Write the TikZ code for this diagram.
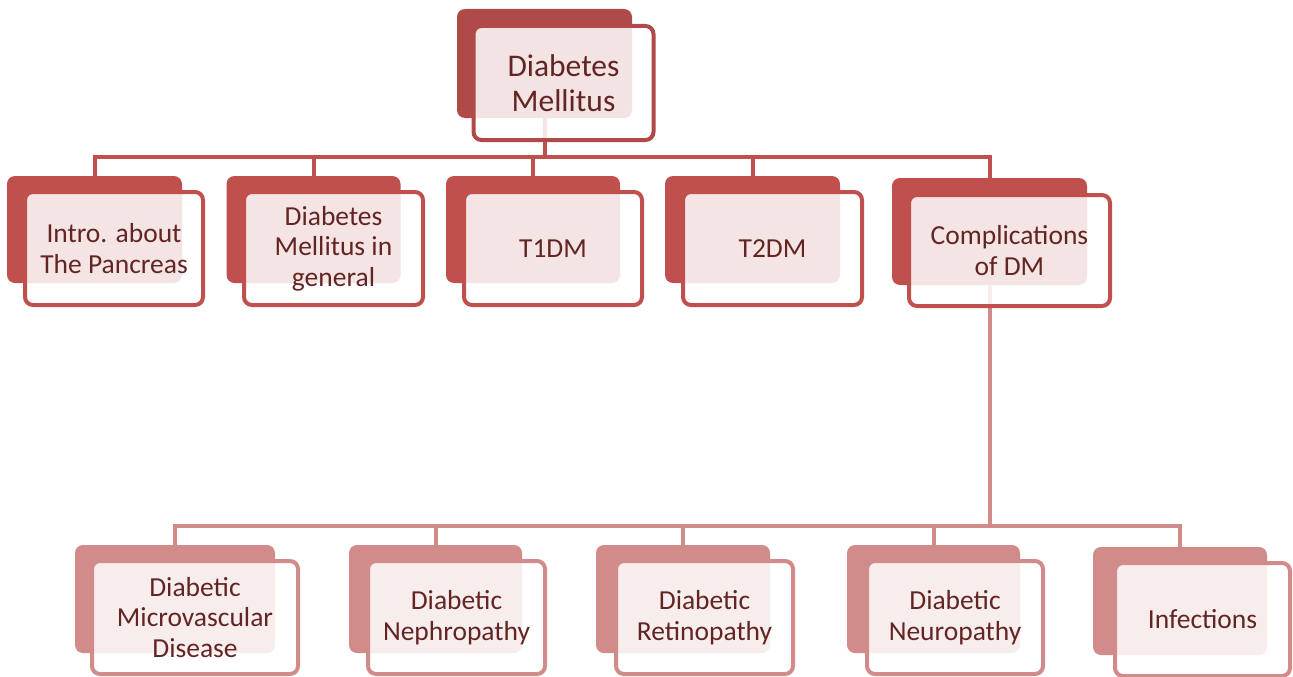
\documentclass[tikz,border=0pt]{standalone}
\usepackage{fontspec}
\setmainfont{Carlito}
\definecolor{topc}{HTML}{B04A48}
\definecolor{midc}{HTML}{C0504D}
\definecolor{lowc}{HTML}{D18B89}
\definecolor{txtc}{HTML}{632523}
\tikzset{
  backbox/.style={rectangle, rounded corners=8pt, inner sep=0pt, draw=none},
  frontbox/.style={rectangle, rounded corners=8pt, inner sep=0pt, line width=4pt,
     fill=white, fill opacity=0.85, text opacity=1, text=txtc, align=center,
     font=\fontsize{27.5}{30.5}\selectfont},
  topfont/.style={font=\fontsize{31.5}{35}\selectfont},
  conn/.style={line width=4pt},
}
\begin{document}
\begin{tikzpicture}[x=1pt,y=-1pt]
\useasboundingbox (0,0) rectangle (1293,677);
% back rectangles
\node[backbox, fill=topc, minimum width=175pt, minimum height=109pt] (topb) at (544.5,63.5) {};
\node[backbox, fill=midc, minimum width=175pt, minimum height=107pt] (introb) at (94.5,229.5) {};
\node[backbox, fill=midc, minimum width=174pt, minimum height=107pt] (genb) at (313.5,229.5) {};
\node[backbox, fill=midc, minimum width=174pt, minimum height=107pt] (t1b) at (533,229.5) {};
\node[backbox, fill=midc, minimum width=175pt, minimum height=107pt] (t2b) at (752.5,229.5) {};
\node[backbox, fill=midc, minimum width=195pt, minimum height=107pt] (compb) at (989.5,231.5) {};
\node[backbox, fill=lowc, minimum width=200pt, minimum height=108pt] (microb) at (175,599) {};
\node[backbox, fill=lowc, minimum width=173pt, minimum height=108pt] (nephb) at (435.5,599) {};
\node[backbox, fill=lowc, minimum width=174pt, minimum height=108pt] (retb) at (683,599) {};
\node[backbox, fill=lowc, minimum width=173pt, minimum height=108pt] (neurb) at (933.5,599) {};
\node[backbox, fill=lowc, minimum width=174pt, minimum height=108pt] (infb) at (1180,601) {};
% connectors level 0 -> 1
\coordinate (bus1) at (0,157);
\foreach \c in {introb,genb,t1b,t2b,compb}
  \draw[conn, draw=midc] (topb.south) -- (topb.south |- bus1) -| (\c.north);
% connectors level 1 -> 2
\coordinate (bus2) at (0,526);
\foreach \c in {microb,nephb,retb,neurb,infb}
  \draw[conn, draw=lowc] (compb.south) -- (compb.south |- bus2) -| (\c.north);
% front rectangles with text
\node[frontbox, topfont, draw=topc, minimum width=180pt, minimum height=114pt] (top) at (563.5,83) {Diabetes\\Mellitus};
\node[frontbox, draw=midc, minimum width=178pt, minimum height=113pt] (intro) at (114,248.5) {Intro. about\\The Pancreas};
\node[frontbox, draw=midc, minimum width=179pt, minimum height=113pt] (gen) at (333.5,248.5) {Diabetes\\Mellitus in\\general};
\node[frontbox, draw=midc, minimum width=178pt, minimum height=113pt] (t1) at (553,248.5) {T1DM};
\node[frontbox, draw=midc, minimum width=179pt, minimum height=113pt] (t2) at (772.5,248.5) {T2DM};
\node[frontbox, draw=midc, minimum width=201pt, minimum height=111pt] (comp) at (1009.5,250.5) {Complications\\of DM};
\node[frontbox, draw=lowc, minimum width=206pt, minimum height=113pt] (micro) at (195,617.5) {Diabetic\\Microvascular\\Disease};
\node[frontbox, draw=lowc, minimum width=177pt, minimum height=113pt] (neph) at (456.5,617.5) {Diabetic\\Nephropathy};
\node[frontbox, draw=lowc, minimum width=177pt, minimum height=113pt] (ret) at (704.5,617.5) {Diabetic\\Retinopathy};
\node[frontbox, draw=lowc, minimum width=176pt, minimum height=113pt] (neur) at (955,617.5) {Diabetic\\Neuropathy};
\node[frontbox, draw=lowc, minimum width=175pt, minimum height=113pt] (inf) at (1202.5,619.5) {Infections};
\end{tikzpicture}
\end{document}
